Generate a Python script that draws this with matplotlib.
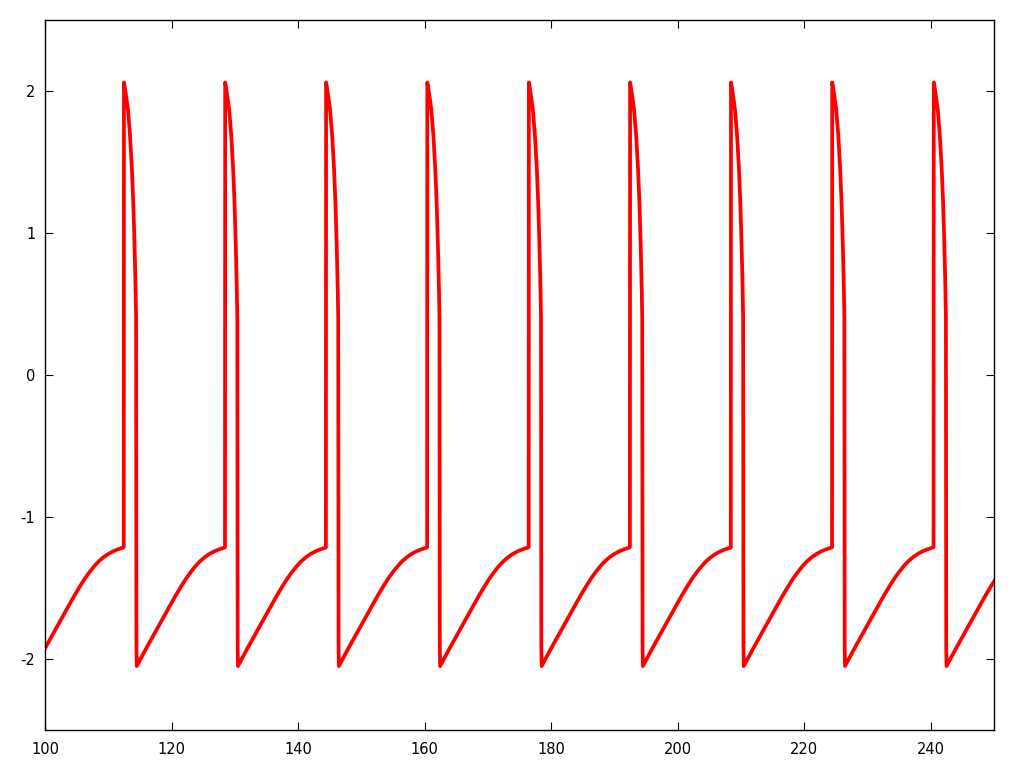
import matplotlib
matplotlib.use("Agg")
import matplotlib.pyplot as plt
import numpy as np

plt.rcParams["axes.unicode_minus"] = False

# spike onset times (one every ~16 time units)
SPIKE_TIMES = [96.45, 112.45, 128.45, 144.4, 160.4, 176.45, 192.45, 208.4, 224.4, 240.45]

# one cycle of the waveform, offsets measured from the spike onset
CYCLE_OFFSETS = [0.0, 0.03, 0.15, 0.35, 0.66, 1.0, 1.3, 1.5, 1.65, 1.78, 1.88, 1.95, 2.0,
                 2.05, 3.55, 5.05, 6.55, 8.05, 9.05, 9.8, 10.55, 11.3, 12.05,
                 12.8, 13.55, 14.3, 15.05, 15.95]
CYCLE_VALUES = [-1.21, 2.06, 2.03, 1.97, 1.87, 1.68, 1.44, 1.22, 1.0, 0.78, 0.58, 0.40, -1.9,
                -2.05, -1.925, -1.805, -1.685, -1.565, -1.49, -1.437, -1.39, -1.348, -1.312,
                -1.283, -1.26, -1.242, -1.228, -1.215]

X_TICKS = [100, 120, 140, 160, 180, 200, 220, 240]
Y_TICKS = [-2, -1, 0, 1, 2]


def build_trace():
    t, v = [], []
    for t0 in SPIKE_TIMES:
        t.extend(t0 + off for off in CYCLE_OFFSETS)
        v.extend(CYCLE_VALUES)
    return np.array(t), np.array(v)


def main():
    t, v = build_trace()

    fig = plt.figure(figsize=(10.24, 7.68), dpi=100)
    ax = fig.add_axes([45 / 1024, 38 / 768, 949 / 1024, 710 / 768])

    ax.plot(t, v, color="#ff0000", lw=2.7, solid_joinstyle="round")

    ax.set_xlim(100, 250)
    ax.set_ylim(-2.5, 2.5)
    ax.set_xticks(X_TICKS)
    ax.set_yticks(Y_TICKS)
    ax.tick_params(direction="in", length=6, width=0.8, top=True, right=True,
                   labelsize=10.5, pad=7)
    ax.tick_params(axis="x", pad=9)
    for s in ax.spines.values():
        s.set_linewidth(1.0)

    fig.savefig("out.png", dpi=100)
    plt.close(fig)


if __name__ == "__main__":
    main()
